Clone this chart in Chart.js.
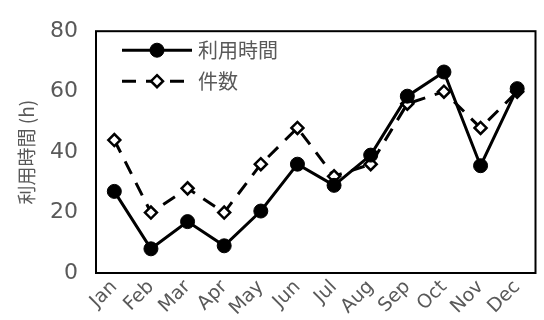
<!DOCTYPE html>
<html>
<head>
<meta charset="utf-8">
<script src="https://cdn.jsdelivr.net/npm/chart.js@4"></script>
<style>
  html, body { margin: 0; padding: 0; background: #ffffff; }
  #wrap { width: 544px; height: 320px; }
</style>
</head>
<body>
<div id="wrap"><canvas id="chart"></canvas></div>
<script>
// data
const months = ['Jan','Feb','Mar','Apr','May','Jun','Jul','Aug','Sep','Oct','Nov','Dec'];
const usageHours = [27, 8, 17, 9, 20.5, 36, 29, 39, 58.5, 66.5, 35.5, 61];
const counts = [44, 20, 28, 20, 36, 48, 32, 36, 56, 60, 48, 60];
const yTicks = [0, 20, 40, 60, 80];

const grey = '#595959';
const latin = "'DejaVu Sans', sans-serif";
const cjk = "'Noto Sans CJK JP', sans-serif";

// frame round the plot area + legend drawn inside it
const framePlugin = {
  id: 'frame',
  afterDraw(chart) {
    const { ctx, chartArea: a } = chart;
    ctx.save();
    ctx.strokeStyle = '#000';
    ctx.lineWidth = 2;
    ctx.strokeRect(a.left, a.top, a.right - a.left, a.bottom - a.top);

    const items = chart.data.datasets;
    items.forEach((ds, i) => {
      const y = a.top + 19 + i * 31;
      const x0 = a.left + 26, x1 = a.left + 96, xm = (x0 + x1) / 2;
      ctx.strokeStyle = '#000';
      ctx.lineWidth = ds.borderWidth;
      ctx.setLineDash(ds.borderDash || []);
      ctx.beginPath();
      ctx.moveTo(x0, y);
      ctx.lineTo(x1, y);
      ctx.stroke();
      ctx.setLineDash([]);
      // marker
      ctx.lineWidth = ds.pointBorderWidth;
      ctx.fillStyle = ds.pointBackgroundColor;
      ctx.beginPath();
      if (ds.pointStyle === 'rectRot') {
        const r = ds.pointRadius;
        ctx.moveTo(xm, y - r); ctx.lineTo(xm + r, y); ctx.lineTo(xm, y + r); ctx.lineTo(xm - r, y); ctx.closePath();
      } else {
        ctx.arc(xm, y, ds.pointRadius, 0, Math.PI * 2);
      }
      ctx.fill();
      ctx.stroke();
      ctx.fillStyle = grey;
      ctx.font = '20px ' + cjk;
      ctx.textBaseline = 'middle';
      ctx.fillText(ds.label, x1 + 6, y);
    });
    ctx.restore();
  }
};

new Chart(document.getElementById('chart'), {
  type: 'line',
  data: {
    labels: months,
    datasets: [
      {
        label: '利用時間',
        data: usageHours,
        borderColor: '#000',
        borderWidth: 3,
        pointStyle: 'circle',
        pointRadius: 7,
        pointBackgroundColor: '#000',
        pointBorderColor: '#000',
        pointBorderWidth: 1,
        tension: 0
      },
      {
        label: '件数',
        data: counts,
        borderColor: '#000',
        borderWidth: 3,
        borderDash: [14, 10],
        pointStyle: 'rectRot',
        pointRadius: 6,
        pointBackgroundColor: '#fff',
        pointBorderColor: '#000',
        pointBorderWidth: 2.5,
        tension: 0
      }
    ]
  },
  options: {
    responsive: true,
    maintainAspectRatio: false,
    animation: false,
    layout: { padding: { top: 23, right: 3, left: 0, bottom: 0 } },
    plugins: { legend: { display: false }, tooltip: { enabled: false } },
    scales: {
      x: {
        offset: true,
        grid: { display: false, drawTicks: false },
        border: { display: false },
        ticks: {
          color: grey,
          font: { family: latin, size: 19 },
          maxRotation: 45,
          minRotation: 45,
          autoSkip: false,
          padding: 3
        },
        afterFit(scale) { scale.height = 47; }
      },
      y: {
        min: 0,
        max: 80,
        grid: { display: false, drawTicks: false },
        border: { display: false },
        afterBuildTicks(scale) { scale.ticks = yTicks.map(v => ({ value: v })); },
        ticks: {
          color: grey,
          font: { family: latin, size: 22 },
          padding: 18
        },
        title: {
          display: true,
          text: '利用時間 (h)',
          color: grey,
          font: { family: cjk, size: 19 },
          padding: { top: 15, bottom: 0 }
        },
        afterFit(scale) { scale.width = 96; }
      }
    }
  },
  plugins: [framePlugin]
});
</script>
</body>
</html>
